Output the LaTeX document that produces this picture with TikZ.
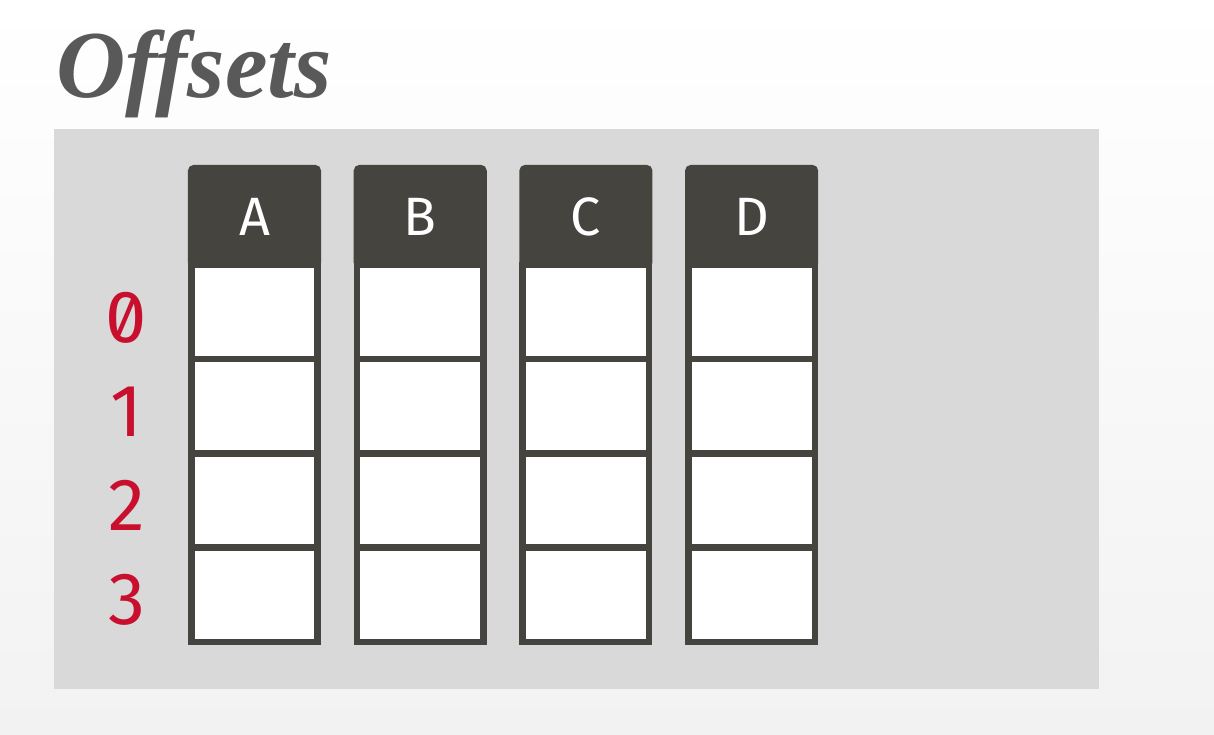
\documentclass[tikz,border=0pt]{standalone}
\usepackage{fontspec}
\setmainfont{Fira Sans}
\newfontfamily\titlefont{Liberation Serif}
\newfontfamily\offsetfont[Numbers=SlashedZero]{Fira Sans}
\definecolor{boxdark}{HTML}{45443F}
\definecolor{panelgray}{HTML}{D9D9D9}
\definecolor{offsetred}{HTML}{C8102E}
\definecolor{titlegray}{HTML}{595959}
\definecolor{bggray}{HTML}{F2F2F2}

\begin{document}
\begin{tikzpicture}[x=0.5pt, y=-0.5pt]
	\tikzstyle{header} = [rectangle, minimum width=63.25pt, minimum height=48.4pt, inner sep=0pt, draw=boxdark, fill=boxdark, line width=3.3pt, rounded corners=1.5pt, text=white, font=\fontsize{27}{30}\selectfont]
	\tikzstyle{cell}   = [rectangle, minimum width=63.25pt, minimum height=47.1pt, inner sep=0pt, draw=boxdark, fill=white, line width=3.3pt]
	\tikzstyle{offset} = [anchor=base, inner sep=0pt, text=offsetred, font=\offsetfont\fontsize{37}{40}\selectfont]

	\useasboundingbox (0,0) rectangle (1214,734);
	\shade[top color=white, bottom color=bggray] (0,0) rectangle (1214,734);
	\fill[panelgray] (54,129) rectangle (1099,689);

	\node[anchor=base west, inner sep=0pt, text=titlegray, font=\titlefont\bfseries\itshape\fontsize{48}{52}\selectfont] (title) at (56,97) {Offsets};

	\foreach \name/\col in {A/0, B/1, C/2, D/3}
		\node[header] (\name) at ({254.5+165.7*\col}, 216.6) {\name};

	\foreach \name/\col in {A/0, B/1, C/2, D/3}
		\foreach \row in {0,...,3}
			\node[cell] (\name\row) at ({254.5+165.7*\col}, {312+94.25*\row}) {};

	\foreach \row in {0,...,3}
		\node[offset] (off\row) at (126.5, {342+94.25*\row}) {\row};
\end{tikzpicture}
\end{document}
